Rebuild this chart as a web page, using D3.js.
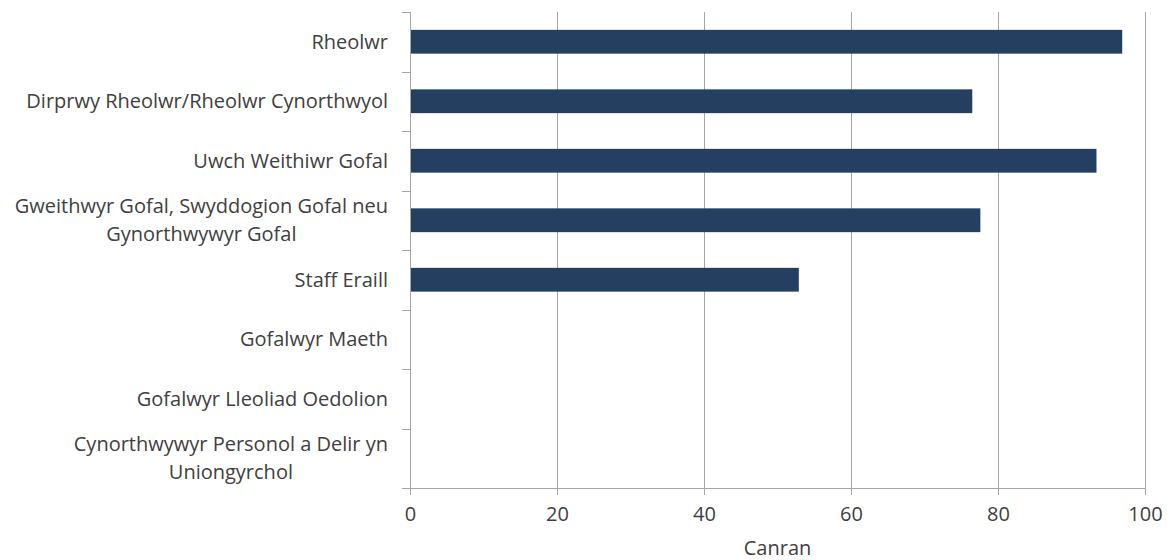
<!DOCTYPE html>
<html><head><meta charset="utf-8">
<script src="https://cdn.jsdelivr.net/npm/d3@7"></script>
<style>
body{margin:0;background:#fff;}
text{font-family:"Open Sans","Noto Sans",sans-serif;fill:#404040;}
</style></head>
<body><svg id="c" width="1170" height="560"></svg>
<script>
const categories = [
  ["Rheolwr"],
  ["Dirprwy Rheolwr/Rheolwr Cynorthwyol"],
  ["Uwch Weithiwr Gofal"],
  ["Gweithwyr Gofal, Swyddogion Gofal neu", "Gynorthwywyr Gofal"],
  ["Staff Eraill"],
  ["Gofalwyr Maeth"],
  ["Gofalwyr Lleoliad Oedolion"],
  ["Cynorthwywyr Personol a Delir yn", "Uniongyrchol"]
];
const values = [96.9, 76.5, 93.4, 77.6, 52.9, null, null, null];
const xTicks = [0, 20, 40, 60, 80, 100];
const xTitle = "Canran";

const svg = d3.select("#c");
const m = {l:410, r:1145, t:12, b:488};
const keys = categories.map((d,i)=>i);
const x = d3.scaleLinear().domain([0,100]).range([m.l, m.r]);
const y = d3.scaleBand().domain(keys).range([m.t, m.b]).paddingInner(0.6).paddingOuter(0.3);
const band = (m.b - m.t) / categories.length;
const grid = "#a6a6a6";

// gridlines
svg.append("g").selectAll("line").data(xTicks.slice(1)).join("line")
  .attr("x1", d=>x(d)+0.5).attr("x2", d=>x(d)+0.5)
  .attr("y1", m.t).attr("y2", m.b)
  .attr("stroke", grid).attr("stroke-width", 1);

// bars
svg.append("g").selectAll("rect").data(keys.filter(i=>values[i]!=null)).join("rect")
  .attr("x", x(0)).attr("y", i=>y(i))
  .attr("width", i=>x(values[i])-x(0)).attr("height", y.bandwidth())
  .attr("fill", "#243f60");

// y axis line and ticks at band boundaries
svg.append("line").attr("x1", m.l+0.5).attr("x2", m.l+0.5).attr("y1", m.t).attr("y2", m.b+7)
  .attr("stroke", grid);
svg.append("g").selectAll("line").data(d3.range(categories.length+1)).join("line")
  .attr("x1", m.l-8).attr("x2", m.l)
  .attr("y1", i=>Math.round(m.t + i*band)+0.5).attr("y2", i=>Math.round(m.t + i*band)+0.5)
  .attr("stroke", grid);

// x axis
const xa = svg.append("g").attr("transform", `translate(0,${m.b})`)
  .call(d3.axisBottom(x).tickValues(xTicks).tickSize(7).tickSizeOuter(0).tickPadding(12));
xa.select(".domain").attr("stroke", grid).attr("d", `M${m.l-8},0.5H${m.r}`);
xa.selectAll(".tick line").attr("stroke", grid);
xa.selectAll(".tick text").style("font-size","20px").attr("fill","#404040");

// category labels
const fs = 20;
const lg = svg.append("g");
categories.forEach((lines, i) => {
  const cy = y(i) + y.bandwidth()/2;
  const t = lg.append("text").attr("text-anchor","middle").style("font-size", fs+"px");
  lines.forEach((ln, j) => {
    t.append("tspan").attr("x", 0).attr("y", cy + (j - (lines.length-1)/2)*28).attr("dy","0.35em").text(ln);
  });
  const w = t.node().getBBox().width;
  t.selectAll("tspan").attr("x", 388 - w/2);
});

svg.append("text").attr("x", (m.l+m.r)/2).attr("y", 548).attr("dy","0.35em")
  .attr("text-anchor","middle").style("font-size","20px").text(xTitle);
</script></body></html>
